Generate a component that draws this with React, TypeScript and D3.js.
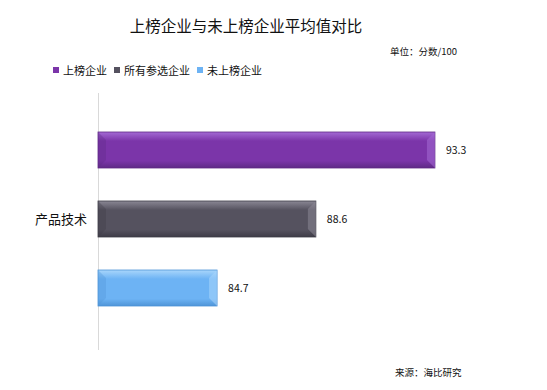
import React, { useRef, useEffect } from 'react';
import * as d3 from 'd3';

const title = '上榜企业与未上榜企业平均值对比';
const unitLabel = '单位：分数/100';
const sourceLabel = '来源：海比研究';
const category = '产品技术';
const seriesNames = ['上榜企业', '所有参选企业', '未上榜企业'];
const seriesValues = [93.3, 88.6, 84.7];
const seriesColors = ['#7b35a9', '#55525f', '#6db3f4'];
const seriesLight = ['#a46ad4', '#8a8794', '#a9d6fb'];
const seriesDark = ['#5f2a86', '#3e3c47', '#4f95d8'];

const W = 547;
const H = 390;

export default function App() {
    const svgRef = useRef<SVGSVGElement>(null);

    useEffect(() => {
        if (!svgRef.current) return;
        const svg = d3.select(svgRef.current);
        svg.selectAll('*').remove();
        const font = '"Noto Sans CJK SC", "Noto Sans", sans-serif';

        const x = d3.scaleLinear().domain([80, 95]).range([98, 478]);
        const y = d3.scaleBand<string>()
            .domain(seriesNames)
            .range([132, 306])
            .paddingInner(33 / 69)
            .paddingOuter(0);

        const defs = svg.append('defs');
        seriesNames.forEach((_, i) => {
            const g = defs.append('linearGradient')
                .attr('id', `grad${i}`)
                .attr('x1', 0).attr('y1', 0).attr('x2', 0).attr('y2', 1);
            g.append('stop').attr('offset', '0%').attr('stop-color', seriesLight[i]);
            g.append('stop').attr('offset', '25%').attr('stop-color', seriesColors[i]);
            g.append('stop').attr('offset', '80%').attr('stop-color', seriesColors[i]);
            g.append('stop').attr('offset', '100%').attr('stop-color', seriesDark[i]);
        });

        // title / notes
        svg.append('text')
            .attr('x', 246).attr('y', 32)
            .attr('text-anchor', 'middle')
            .attr('font-family', font).attr('font-size', 15.5)
            .attr('fill', '#111')
            .text(title);

        svg.append('text')
            .attr('x', 457).attr('y', 55)
            .attr('text-anchor', 'end')
            .attr('font-family', font).attr('font-size', 9.5)
            .attr('fill', '#111')
            .text(unitLabel);

        // legend
        let lx = 53;
        seriesNames.forEach((name, i) => {
            svg.append('rect')
                .attr('x', lx).attr('y', 67).attr('width', 6).attr('height', 6)
                .attr('fill', seriesColors[i]);
            const t = svg.append('text')
                .attr('x', lx + 10).attr('y', 74.5)
                .attr('font-family', font).attr('font-size', 11)
                .attr('fill', '#111')
                .text(name);
            const w = (t.node() as SVGTextElement).getComputedTextLength();
            lx += 10 + w + 7;
        });

        // axis line
        svg.append('line')
            .attr('x1', 98.5).attr('x2', 98.5)
            .attr('y1', 93).attr('y2', 350)
            .attr('stroke', '#d9d9d9').attr('stroke-width', 1);

        svg.append('text')
            .attr('x', 87).attr('y', 224)
            .attr('text-anchor', 'end')
            .attr('font-family', font).attr('font-size', 13)
            .attr('fill', '#111')
            .text(category);

        // bars
        seriesNames.forEach((name, i) => {
            const x0 = x(80);
            const x1 = x(seriesValues[i]);
            const y0 = y(name)!;
            const h = y.bandwidth();
            const b = 8;
            svg.append('rect')
                .attr('x', x0).attr('y', y0)
                .attr('width', x1 - x0).attr('height', h)
                .attr('fill', `url(#grad${i})`)
                .attr('stroke', seriesDark[i]).attr('stroke-width', 0.8);
            // bevel ends
            svg.append('polygon')
                .attr('points', `${x0},${y0} ${x0 + b},${y0 + b} ${x0 + b},${y0 + h - b} ${x0},${y0 + h}`)
                .attr('fill', seriesDark[i]).attr('opacity', 0.35);
            svg.append('polygon')
                .attr('points', `${x1},${y0} ${x1 - b},${y0 + b} ${x1 - b},${y0 + h - b} ${x1},${y0 + h}`)
                .attr('fill', seriesLight[i]).attr('opacity', 0.55);
            svg.append('text')
                .attr('x', x1 + 11).attr('y', y0 + h / 2 + 4)
                .attr('font-family', font).attr('font-size', 10.5)
                .attr('fill', '#111')
                .text(seriesValues[i].toFixed(1));
        });

        svg.append('text')
            .attr('x', 395).attr('y', 376)
            .attr('font-family', font).attr('font-size', 9.5)
            .attr('fill', '#111')
            .text(sourceLabel);
    }, []);

    return (
        <svg
            ref={svgRef}
            width={W}
            height={H}
            style={{ position: 'absolute', left: 0, top: 0, background: '#fff' }}
        />
    );
}
